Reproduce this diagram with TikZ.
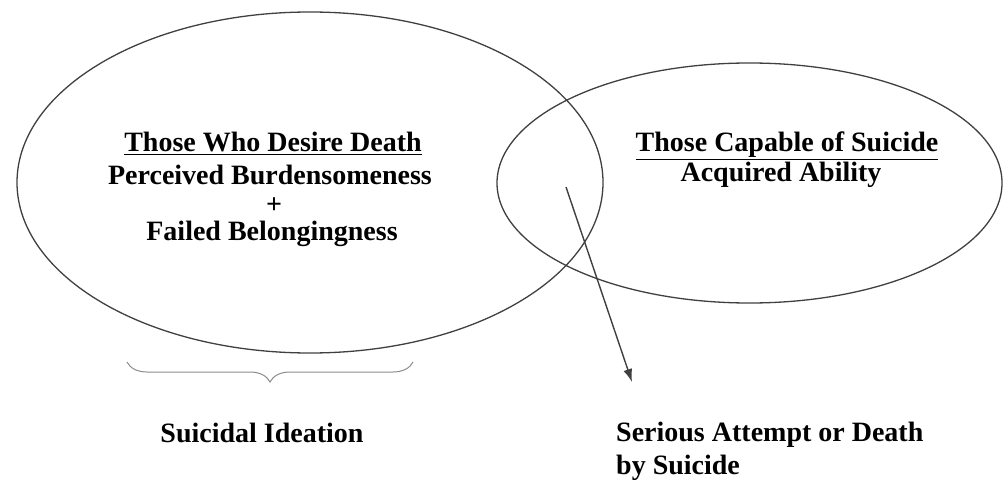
\documentclass[tikz,border=0pt]{standalone}
\usepackage{fontspec}
\setmainfont{Liberation Serif}
\usetikzlibrary{shapes.geometric,arrows.meta,decorations.pathreplacing}
\tikzset{
  oval/.style={ellipse,draw=black!75,line width=1.3pt,inner sep=0pt},
  lbl/.style={inner sep=0pt,anchor=base,font=\fontsize{28}{33}\selectfont\bfseries,text=black},
  lbll/.style={lbl,anchor=base west},
  conn/.style={draw=black!75,line width=1.4pt,-{Latex[length=13pt,width=9pt]}},
  brc/.style={draw=black!45,line width=1pt,decorate,decoration={brace,amplitude=20pt}}
}
\begin{document}
\begin{tikzpicture}[x=1pt,y=-1pt]
\useasboundingbox (0,0) rectangle (1008,481);
\node[oval,minimum width=586pt,minimum height=341pt] (desire) at (310,182.5) {};
\node[oval,minimum width=505pt,minimum height=240pt] (capable) at (749.5,183) {};
\node[lbl] (t1) at (273,152) {\underline{Those Who Desire Death}};
\node[lbl] (t2) at (270,185) {Perceived Burdensomeness};
\node[lbl] (t3) at (274,213) {+};
\node[lbl] (t4) at (272,240) {Failed Belongingness};
\node[lbl] (r1) at (787,152) {\underline{Those Capable of Suicide}};
\node[lbl] (r2) at (781,182) {Acquired Ability};
\node[lbl] (ideation) at (262,442) {Suicidal Ideation};
\node[lbll] (attempt1) at (616,441) {Serious Attempt or Death};
\node[lbll] (attempt2) at (616,474) {by Suicide};
\coordinate (astart) at (566,187);
\coordinate (aend) at (632,382);
\draw[conn] (astart) -- (aend);
\coordinate (bR) at (413,362);
\coordinate (bL) at (127,362);
\draw[brc] (bR) -- (bL);
\end{tikzpicture}
\end{document}
